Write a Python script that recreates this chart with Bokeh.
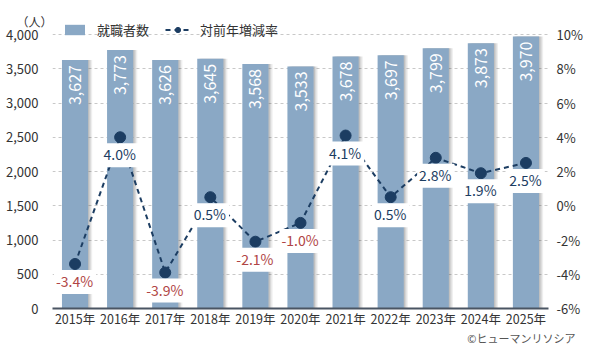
import math
from bokeh.plotting import figure
from bokeh.models import (ColumnDataSource, FactorRange, Range1d, LinearAxis, FixedTicker,
                          NumeralTickFormatter, PrintfTickFormatter, Legend, LegendItem, Title)
from bokeh.transform import dodge
from bokeh.core.properties import value
from bokeh.embed import file_html
from bokeh.resources import INLINE

years = ["2015年", "2016年", "2017年", "2018年", "2019年", "2020年",
         "2021年", "2022年", "2023年", "2024年", "2025年"]
workers = [3627, 3773, 3626, 3645, 3568, 3533, 3678, 3697, 3799, 3873, 3970]
rates = [-3.4, 4.0, -3.9, 0.5, -2.1, -1.0, 4.1, 0.5, 2.8, 1.9, 2.5]
left_ticks = [0, 500, 1000, 1500, 2000, 2500, 3000, 3500, 4000]
right_ticks = [-6, -4, -2, 0, 2, 4, 6, 8, 10]

FONT = "Noto Sans CJK JP"
BAR = "#8aa8c5"
NAVY = "#1c3d62"
RED = "#b04545"
TXT = "#333333"

# frame: axis span 274 px (4000 / 10%) plus 14 px headroom for the legend
AX_PX, HEAD_PX = 274, 14
FRAME_H = AX_PX + HEAD_PX
ltop = 4000 * FRAME_H / AX_PX
rtop = -6 + 16 * FRAME_H / AX_PX

src = ColumnDataSource(dict(
    x=years, y=workers, lbl=[f"{v:,}" for v in workers],
    r=rates, rl=[f"{v:.1f}%" for v in rates],
    rc=[RED if v < 0 else NAVY for v in rates],
))

p = figure(width=590, height=348, x_range=FactorRange(*years, range_padding=0),
           y_range=Range1d(0, ltop), output_backend="svg", toolbar_location=None,
           min_border_left=52, min_border_right=42, min_border_top=20, min_border_bottom=40)
p.outline_line_color = None
p.extra_y_ranges = {"pct": Range1d(-6, rtop)}

p.title.text = "（人）"
p.title.align = "left"
p.title.offset = -36
p.title.standoff = -19
p.title.text_font = FONT
p.title.text_font_size = "12px"
p.title.text_font_style = "normal"
p.title.text_color = TXT

# grid
p.xgrid.grid_line_color = None
p.ygrid.ticker = FixedTicker(ticks=left_ticks)
p.ygrid.grid_line_color = "#c8c8c8"
p.ygrid.grid_line_dash = "3 3"

# axes
p.yaxis.ticker = FixedTicker(ticks=left_ticks)
p.yaxis.formatter = NumeralTickFormatter(format="0,0")

ra = LinearAxis(y_range_name="pct", ticker=FixedTicker(ticks=right_ticks),
                formatter=PrintfTickFormatter(format="%d%%"))
p.add_layout(ra, "right")

for ax in [p.yaxis[0], ra, p.xaxis[0]]:
    ax.major_tick_line_color = None
    ax.minor_tick_line_color = None
    ax.major_tick_out = 0
    ax.major_tick_in = 0
    ax.minor_tick_out = 0
    ax.minor_tick_in = 0
    ax.axis_label_standoff = 0
    ax.major_label_text_font = FONT
    ax.major_label_text_color = TXT

p.yaxis.axis_line_color = None
p.yaxis.major_label_standoff = 14
p.yaxis.major_label_text_font_size = "13px"
ra.axis_line_color = None
ra.major_label_standoff = 8
ra.major_label_text_font_size = "13px"

p.xaxis.axis_line_color = "#4a5563"
p.xaxis.axis_line_width = 2
p.xaxis.major_label_standoff = 0
p.xaxis.major_label_text_font_size = "12.5px"

p.add_layout(Title(text="©ヒューマンリソシア", align="right", offset=-27, standoff=-2,
                   vertical_align="top",
                   text_font=FONT, text_font_size="11px", text_font_style="normal",
                   text_color="#555555"), "below")

W = 0.58
# soft shadow on the right of bars
for off, a in [(0.09, 0.10), (0.06, 0.14), (0.03, 0.18)]:
    p.vbar(x=dodge("x", off, range=p.x_range), top="y", width=W, source=src,
           fill_color="#555555", fill_alpha=a, line_color=None)
bars = p.vbar(x="x", top="y", width=W, source=src, fill_color=BAR, line_color=None)

p.text(x="x", y="y", text="lbl", source=src, angle=math.pi / 2, text_align="right",
       text_baseline="middle", y_offset=5, text_color="white",
       text_font=value(FONT), text_font_size="16px")

line = p.line(x="x", y="r", source=src, y_range_name="pct", line_color=NAVY,
              line_width=2, line_dash="5 4")
pts = p.scatter(x="x", y="r", source=src, y_range_name="pct", size=11,
                fill_color=NAVY, line_color=NAVY)

p.text(x="x", y="r", text="rl", source=src, y_range_name="pct", text_align="center",
       text_baseline="middle", y_offset=18, text_color="rc", text_font=value(FONT),
       text_font_size="14px", background_fill_color="white", padding=[2, 3, 1, 3])

legend = Legend(items=[LegendItem(label="就職者数", renderers=[bars]),
                       LegendItem(label="対前年増減率", renderers=[line, pts])],
                orientation="horizontal", location=(10, FRAME_H - 19),
                glyph_width=25, glyph_height=13, label_height=14, label_standoff=10,
                spacing=16, padding=0, margin=0,
                border_line_color=None, background_fill_alpha=0,
                label_text_font=FONT, label_text_font_size="13px", label_text_color=TXT)
p.add_layout(legend, "center")

open("out.html", "w").write(file_html(p, INLINE))
